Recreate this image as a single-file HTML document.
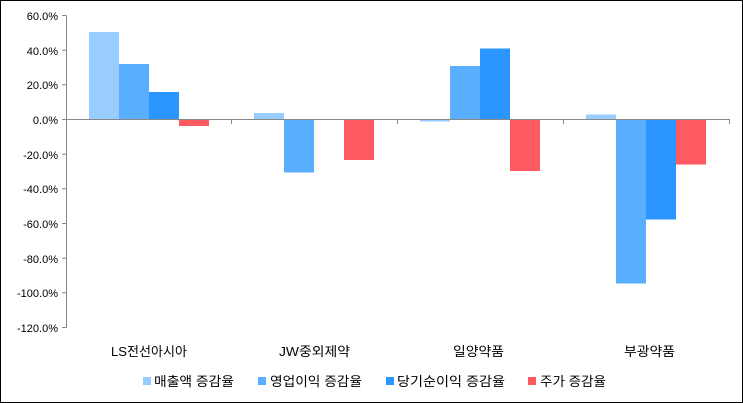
<!DOCTYPE html><html><head><meta charset="utf-8"><style>body{margin:0;background:#fff}svg{display:block}text{font-family:"Liberation Sans","Noto Sans CJK KR",sans-serif;font-size:11px;fill:#000}</style></head><body>
<svg width="743" height="403" xmlns="http://www.w3.org/2000/svg">
<rect x="0.5" y="0.5" width="742" height="402" fill="#fff" stroke="#000"/>
<g stroke="#888" stroke-width="1">
<line x1="66.5" y1="15.5" x2="66.5" y2="327.5"/>
<line x1="62" y1="15.5" x2="66.5" y2="15.5"/><line x1="62" y1="50.2" x2="66.5" y2="50.2"/><line x1="62" y1="84.8" x2="66.5" y2="84.8"/><line x1="62" y1="119.5" x2="66.5" y2="119.5"/><line x1="62" y1="154.2" x2="66.5" y2="154.2"/><line x1="62" y1="188.8" x2="66.5" y2="188.8"/><line x1="62" y1="223.5" x2="66.5" y2="223.5"/><line x1="62" y1="258.2" x2="66.5" y2="258.2"/><line x1="62" y1="292.8" x2="66.5" y2="292.8"/><line x1="62" y1="327.5" x2="66.5" y2="327.5"/>
</g>
<g text-anchor="end">
<text x="58" y="20">60.0%</text><text x="58" y="55">40.0%</text><text x="58" y="89">20.0%</text><text x="58" y="124">0.0%</text><text x="58" y="159">-20.0%</text><text x="58" y="193">-40.0%</text><text x="58" y="228">-60.0%</text><text x="58" y="263">-80.0%</text><text x="58" y="297">-100.0%</text><text x="58" y="332">-120.0%</text>
</g>
<rect x="89" y="32" width="30" height="87.5" fill="#99ccff"/>
<rect x="119" y="64" width="30" height="55.5" fill="#5aaeff"/>
<rect x="149" y="92" width="30" height="27.5" fill="#2b96ff"/>
<rect x="179" y="119.5" width="30" height="6.5" fill="#ff5a62"/>
<rect x="254" y="113" width="30" height="6.5" fill="#99ccff"/>
<rect x="284" y="119.5" width="30" height="53" fill="#5aaeff"/>
<rect x="344" y="119.5" width="30" height="40.5" fill="#ff5a62"/>
<rect x="420" y="119.5" width="30" height="2" fill="#99ccff"/>
<rect x="450" y="66" width="30" height="53.5" fill="#5aaeff"/>
<rect x="480" y="48.5" width="30" height="71" fill="#2b96ff"/>
<rect x="510" y="119.5" width="30" height="51.5" fill="#ff5a62"/>
<rect x="586" y="114.5" width="30" height="5" fill="#99ccff"/>
<rect x="616" y="119.5" width="30" height="164" fill="#5aaeff"/>
<rect x="646" y="119.5" width="30" height="100" fill="#2b96ff"/>
<rect x="676" y="119.5" width="30" height="45" fill="#ff5a62"/>
<g stroke="#888"><line x1="66.5" y1="119.5" x2="730" y2="119.5"/>
<line x1="231.5" y1="119.5" x2="231.5" y2="124"/><line x1="397.5" y1="119.5" x2="397.5" y2="124"/><line x1="563.5" y1="119.5" x2="563.5" y2="124"/><line x1="729.5" y1="119.5" x2="729.5" y2="124"/></g>
<g style="font-size:13px">
<text x="111" y="356" textLength="76" lengthAdjust="spacingAndGlyphs" style="font-size:13px">LS전선아시아</text>
<text x="279" y="356" textLength="71" lengthAdjust="spacingAndGlyphs" style="font-size:13px">JW중외제약</text>
<text x="453" y="356" textLength="51" lengthAdjust="spacingAndGlyphs" style="font-size:13px">일양약품</text>
<text x="624" y="356" textLength="51" lengthAdjust="spacingAndGlyphs" style="font-size:13px">부광약품</text>
</g>
<rect x="143" y="377" width="8" height="8" fill="#99ccff"/><text x="154" y="386" textLength="80" lengthAdjust="spacingAndGlyphs" style="font-size:13px">매출액 증감율</text>
<rect x="258" y="377" width="8" height="8" fill="#5aaeff"/><text x="270" y="386" textLength="92" lengthAdjust="spacingAndGlyphs" style="font-size:13px">영업이익 증감율</text>
<rect x="386" y="377" width="8" height="8" fill="#2b96ff"/><text x="397" y="386" textLength="108" lengthAdjust="spacingAndGlyphs" style="font-size:13px">당기순이익 증감율</text>
<rect x="528" y="377" width="8" height="8" fill="#ff5a62"/><text x="540" y="386" textLength="66" lengthAdjust="spacingAndGlyphs" style="font-size:13px">주가 증감율</text>
</svg></body></html>
